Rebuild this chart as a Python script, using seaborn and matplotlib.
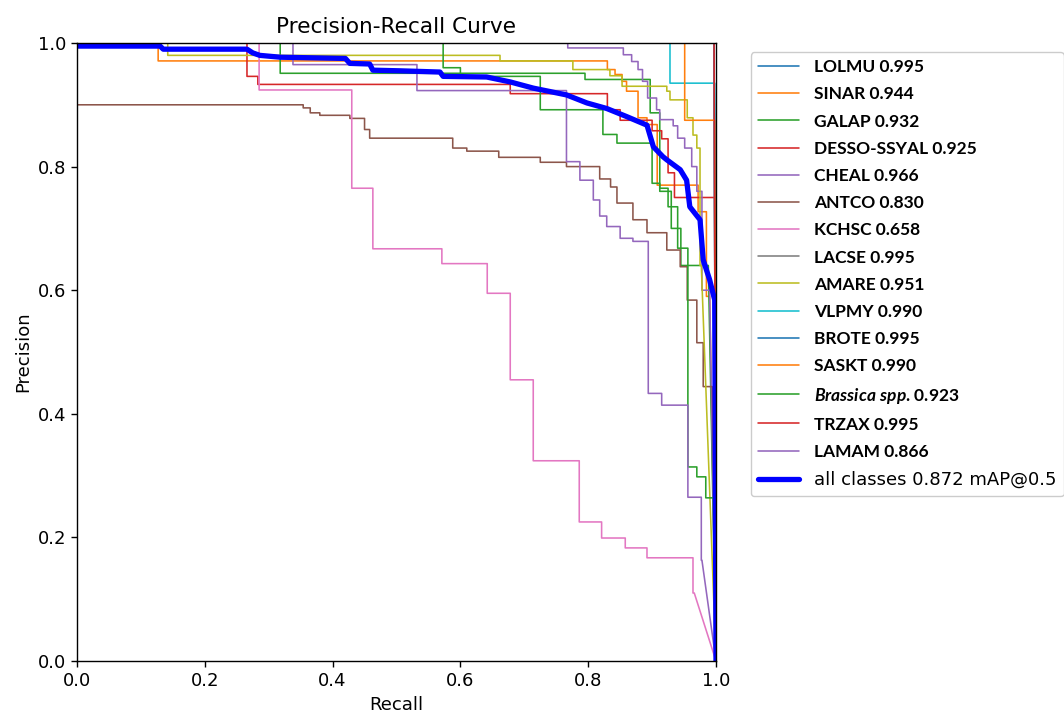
import numpy as np
import pandas as pd
import matplotlib
matplotlib.use("Agg")
import matplotlib.pyplot as plt
import seaborn as sns
from matplotlib.font_manager import FontProperties

# class names and AP values (legend order)
class_names = ['LOLMU', 'SINAR', 'GALAP', 'DESSO-SSYAL', 'CHEAL', 'ANTCO', 'KCHSC', 'LACSE',
               'AMARE', 'VLPMY', 'BROTE', 'SASKT', 'Brassica spp.', 'TRZAX', 'LAMAM']
class_ap = [0.995, 0.944, 0.932, 0.925, 0.966, 0.830, 0.658, 0.995,
            0.951, 0.990, 0.995, 0.990, 0.923, 0.995, 0.866]
map_all = 0.872

# step curves: recall break points and the precision level between them
lolmu_r = [0, 0.997]
lolmu_p = [1.0]
sinar_r = [0, 0.127, 0.83, 0.842, 0.853, 0.86, 0.878, 0.892, 0.908, 0.972, 0.985, 0.99]
sinar_p = [1.0, 0.971, 0.957, 0.949, 0.938, 0.922, 0.879, 0.868, 0.77, 0.727, 0.59]
galap_r = [0, 0.318, 0.795, 0.897, 0.912, 0.93, 0.945, 0.988]
galap_p = [1.0, 0.951, 0.941, 0.887, 0.76, 0.70, 0.64]
desso_r = [0, 0.266, 0.283, 0.678, 0.83, 0.85, 0.90, 0.915, 0.925, 0.935, 0.998]
desso_p = [1.0, 0.946, 0.933, 0.918, 0.892, 0.875, 0.858, 0.845, 0.79, 0.75]
cheal_r = [0, 0.768, 0.855, 0.868, 0.878, 0.885, 0.893, 0.907, 0.912, 0.933, 0.94, 0.951,
           0.962, 0.97, 0.978, 0.99]
cheal_p = [1.0, 0.992, 0.981, 0.97, 0.957, 0.938, 0.911, 0.892, 0.876, 0.866, 0.846, 0.83,
           0.80, 0.76, 0.60]
antco_r = [0, 0.354, 0.365, 0.38, 0.427, 0.45, 0.458, 0.588, 0.61, 0.66, 0.725, 0.766, 0.818,
           0.835, 0.845, 0.87, 0.892, 0.923, 0.944, 0.955, 0.97, 0.98, 0.994]
antco_p = [0.9, 0.895, 0.887, 0.883, 0.878, 0.86, 0.846, 0.83, 0.825, 0.815, 0.807, 0.80,
           0.78, 0.767, 0.741, 0.714, 0.693, 0.665, 0.638, 0.584, 0.515, 0.444]
kchsc_r = [0, 0.285, 0.43, 0.463, 0.571, 0.642, 0.678, 0.714, 0.786, 0.821, 0.858, 0.892,
           0.964, 0.966]
kchsc_p = [1.0, 0.924, 0.765, 0.667, 0.643, 0.595, 0.455, 0.324, 0.225, 0.199, 0.183, 0.167, 0.11]
lacse_r = [0, 0.997]
lacse_p = [1.0]
amare_r = [0, 0.142, 0.662, 0.776, 0.834, 0.853, 0.923, 0.928, 0.955, 0.964, 0.97, 0.975, 0.977]
amare_p = [1.0, 0.98, 0.971, 0.957, 0.947, 0.93, 0.922, 0.908, 0.879, 0.851, 0.83, 0.64]
vlpmy_r = [0, 0.928, 0.998]
vlpmy_p = [1.0, 0.935]
brote_r = [0, 0.997]
brote_p = [1.0]
saskt_r = [0, 0.951, 0.998]
saskt_p = [1.0, 0.875]
brass_r = [0, 0.573, 0.60, 0.725, 0.823, 0.845, 0.90, 0.912, 0.925, 0.94, 0.956, 0.97, 0.984, 0.996]
brass_p = [1.0, 0.96, 0.946, 0.892, 0.852, 0.838, 0.773, 0.765, 0.735, 0.668, 0.314, 0.298, 0.264]
trzax_r = [0, 0.997]
trzax_p = [1.0]
lamam_r = [0, 0.338, 0.532, 0.766, 0.787, 0.808, 0.818, 0.829, 0.85, 0.87, 0.894, 0.915,
           0.956, 0.977, 0.978]
lamam_p = [1.0, 0.965, 0.923, 0.808, 0.778, 0.746, 0.72, 0.703, 0.684, 0.679, 0.433, 0.414,
           0.265, 0.163]

# mean curve over all classes (read as a polyline)
all_r = [0, 0.13, 0.135, 0.266, 0.275, 0.286, 0.318, 0.42, 0.427, 0.458, 0.463, 0.505, 0.568,
         0.573, 0.641, 0.678, 0.714, 0.766, 0.798, 0.829, 0.86, 0.892, 0.902, 0.917, 0.923,
         0.944, 0.954, 0.959, 0.975, 0.98, 0.99, 0.998, 1.0]
all_p = [0.995, 0.995, 0.99, 0.99, 0.984, 0.98, 0.977, 0.975, 0.967, 0.966, 0.956, 0.955, 0.953,
         0.946, 0.945, 0.937, 0.927, 0.916, 0.903, 0.894, 0.881, 0.867, 0.832, 0.816, 0.811,
         0.795, 0.778, 0.735, 0.714, 0.649, 0.617, 0.584, 0.0]

curves = [(lolmu_r, lolmu_p), (sinar_r, sinar_p), (galap_r, galap_p), (desso_r, desso_p),
          (cheal_r, cheal_p), (antco_r, antco_p), (kchsc_r, kchsc_p), (lacse_r, lacse_p),
          (amare_r, amare_p), (vlpmy_r, vlpmy_p), (brote_r, brote_p), (saskt_r, saskt_p),
          (brass_r, brass_p), (trzax_r, trzax_p), (lamam_r, lamam_p)]


def step_frame(r, p):
    # corners of the step curve, closed by the line to (1, 0)
    xs = np.repeat(np.asarray(r, float), 2)[1:-1]
    ys = np.repeat(np.asarray(p, float), 2)
    xs = np.append(xs, 1.0)
    ys = np.append(ys, 0.0)
    return pd.DataFrame({'recall': xs, 'precision': ys})


sns.set_theme(style="ticks", rc={
    'axes.edgecolor': 'black', 'axes.linewidth': 1.0,
    'xtick.color': 'black', 'ytick.color': 'black',
    'xtick.major.size': 4.5, 'ytick.major.size': 4.5,
    'xtick.major.width': 1.0, 'ytick.major.width': 1.0,
    'xtick.labelsize': 13, 'ytick.labelsize': 13,
    'axes.labelsize': 13, 'axes.titlesize': 15.6,
    'text.color': 'black', 'axes.labelcolor': 'black',
})
plt.rcParams['font.family'] = ['DejaVu Sans']
plt.rcParams['mathtext.fontset'] = 'custom'
plt.rcParams['mathtext.it'] = 'Lato:italic:bold'
plt.rcParams['mathtext.rm'] = 'Lato:bold'
plt.rcParams['mathtext.bf'] = 'Lato:bold'

palette = sns.color_palette('tab10', 10)

fig = plt.figure(figsize=(10.64, 7.14), dpi=100)
ax = fig.add_axes([0.07237, 0.07423, 0.60056, 0.86555])

labels = []
for i, (name, ap) in enumerate(zip(class_names, class_ap)):
    if name.startswith('Brassica'):
        lab = r'$\mathit{Brassica\ spp}$. %.3f' % ap
    else:
        lab = f'{name} {ap:.3f}'
    labels.append(lab)
    r, p = curves[i]
    sns.lineplot(data=step_frame(r, p), x='recall', y='precision', sort=False,
                 estimator=None, color=palette[i % 10], linewidth=1.15, label=lab, ax=ax)

sns.lineplot(x=all_r, y=all_p, sort=False, estimator=None, color='blue', linewidth=3.8,
             label=f'all classes {map_all:.3f} mAP@0.5', ax=ax)

ax.set_xlim(0, 1)
ax.set_ylim(0, 1)
ax.set_xticks(np.arange(0, 1.01, 0.2))
ax.set_yticks(np.arange(0, 1.01, 0.2))
ax.set_xlabel('Recall')
ax.set_ylabel('Precision')
ax.set_title('Precision-Recall Curve', pad=7)

leg = ax.legend(loc='upper left', bbox_to_anchor=(1.04, 1.0), fontsize=13,
                handlelength=2.3, handletextpad=0.8, labelspacing=0.62, borderpad=0.4,
                frameon=True, fancybox=True, edgecolor='0.8', framealpha=1.0)
bold = FontProperties(family='Lato', weight='bold', size=12.5)
for t in leg.get_texts()[:-1]:
    t.set_fontproperties(bold)

fig.savefig('out.png', dpi=100)
